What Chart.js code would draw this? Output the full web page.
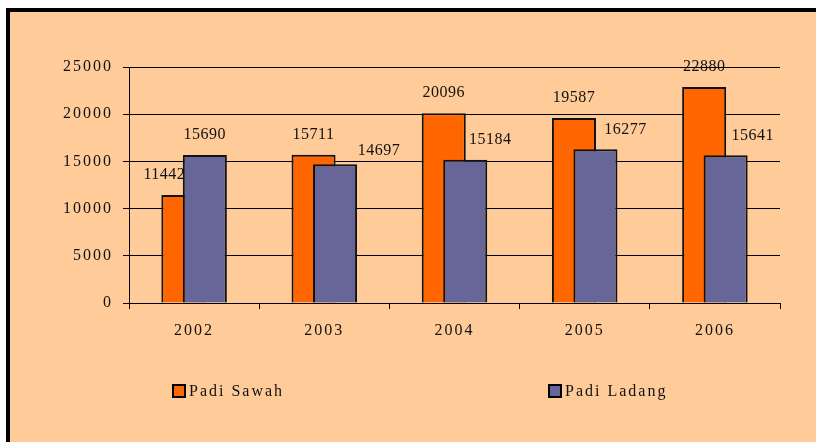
<!DOCTYPE html>
<html>
<head>
<meta charset="utf-8">
<script src="https://cdn.jsdelivr.net/npm/chart.js@4/dist/chart.umd.min.js"></script>
<style>
    html, body { margin: 0; padding: 0; background: #fff; overflow: hidden; }
    #chart { display: block; }
</style>
</head>
<body>
<canvas id="chart" width="816" height="442"></canvas>
<script>
const years = ['2002', '2003', '2004', '2005', '2006'];
const padiSawah = [11442, 15711, 20096, 19587, 22880];
const padiLadang = [15690, 14697, 15184, 16277, 15641];
const yTicks = [0, 5000, 10000, 15000, 20000, 25000];

// label nudges (px) so the numbers don't collide, like in the original
const sawahShift = [-19, 0, 0, 0, 0];
const ladangShift = [0, 44, 25, 30, 27];
const ladangLift = [0, 7, 0, 0, 0];

const FONT = "'Liberation Serif', 'Times New Roman', Times, serif";
const INK = '#111';

// peach panel with the thick black frame (only top/left edges are visible)
const panel = {
    id: 'panel',
    beforeUpdate: function (chart) { chart.ctx.letterSpacing = '2px'; },
    beforeDraw: function (chart) {
        const ctx = chart.ctx;
        ctx.letterSpacing = '2px';
        ctx.save();
        ctx.fillStyle = '#fff';
        ctx.fillRect(0, 0, chart.width, chart.height);
        ctx.fillStyle = '#FFCC99';
        ctx.fillRect(6, 8, chart.width - 6, chart.height - 8);
        ctx.fillStyle = '#000';
        ctx.fillRect(6, 8, chart.width - 6, 4);
        ctx.fillRect(6, 8, 4, chart.height - 8);
        ctx.restore();
    }
};

// draw orange first so the purple bar sits in front of it (Excel overlap)
const frontOrder = {
    id: 'frontOrder',
    beforeDatasetsDraw: function (chart) {
        chart.data.datasets.forEach(function (ds, i) {
            chart.getDatasetMeta(i).controller.draw();
        });
        return false;
    }
};

// value labels above bars
const valueLabels = {
    id: 'valueLabels',
    afterDraw: function (chart) {
        const ctx = chart.ctx;
        ctx.save();
        ctx.letterSpacing = '0.5px';
        ctx.font = '16px ' + FONT;
        ctx.fillStyle = INK;
        ctx.textAlign = 'center';
        ctx.textBaseline = 'middle';
        chart.data.datasets.forEach(function (ds, i) {
            const meta = chart.getDatasetMeta(i);
            meta.data.forEach(function (bar, j) {
                const dx = i === 0 ? sawahShift[j] : ladangShift[j];
                const dy = i === 0 ? 0 : ladangLift[j];
                ctx.fillText(String(ds.data[j]), bar.x + dx, bar.y - 20 + dy);
            });
        });
        ctx.restore();
    }
};

// legend spread out under the plot
const spreadLegend = {
    id: 'spreadLegend',
    afterDraw: function (chart) {
        const ctx = chart.ctx;
        const spots = [173, 549];
        ctx.save();
        ctx.letterSpacing = '2px';
        ctx.font = '16px ' + FONT;
        ctx.textBaseline = 'middle';
        ctx.textAlign = 'left';
        chart.data.datasets.forEach(function (ds, i) {
            const x = spots[i];
            const y = 391;
            ctx.fillStyle = ds.backgroundColor;
            ctx.fillRect(x, y - 6, 12, 12);
            ctx.lineWidth = 2;
            ctx.strokeStyle = '#000';
            ctx.strokeRect(x, y - 6, 12, 12);
            ctx.fillStyle = INK;
            ctx.fillText(ds.label, x + 16, y + 1);
        });
        ctx.restore();
    }
};

new Chart(document.getElementById('chart').getContext('2d'), {
    type: 'bar',
    data: {
        labels: years,
        datasets: [{
            label: 'Padi Sawah',
            data: padiSawah,
            backgroundColor: '#FF6600',
            borderColor: '#111',
            borderWidth: 2,
            categoryPercentage: 0.33,
            barPercentage: 2.05
        }, {
            label: 'Padi Ladang',
            data: padiLadang,
            backgroundColor: '#666699',
            borderColor: '#111',
            borderWidth: 2,
            categoryPercentage: 0.33,
            barPercentage: 2.05
        }]
    },
    options: {
        responsive: false,
        animation: false,
        font: { family: FONT },
        layout: { padding: { left: 0, right: 36, top: 67, bottom: 99 } },
        scales: {
            x: {
                offset: true,
                border: { color: '#000', width: 1 },
                grid: {
                    offset: true,
                    drawOnChartArea: false,
                    color: '#000',
                    tickLength: 6
                },
                ticks: {
                    color: INK,
                    font: { family: FONT, size: 16 },
                    padding: 12,
                    maxRotation: 0
                },
                afterFit: function (scale) { scale.height = 40; }
            },
            y: {
                min: 0,
                max: 25000,
                afterBuildTicks: function (scale) {
                    scale.ticks = yTicks.map(function (v) { return { value: v }; });
                },
                border: { color: '#000', width: 1 },
                grid: { color: '#000', lineWidth: 1, tickLength: 6 },
                ticks: {
                    color: INK,
                    font: { family: FONT, size: 16 },
                    padding: 10,
                    callback: function (value) {
                        return String(value);
                    }
                },
                afterFit: function (scale) { scale.width = 129; }
            }
        },
        plugins: {
            legend: { display: false },
            tooltip: { enabled: false }
        }
    },
    plugins: [panel, frontOrder, valueLabels, spreadLegend]
});
</script>
</body>
</html>
